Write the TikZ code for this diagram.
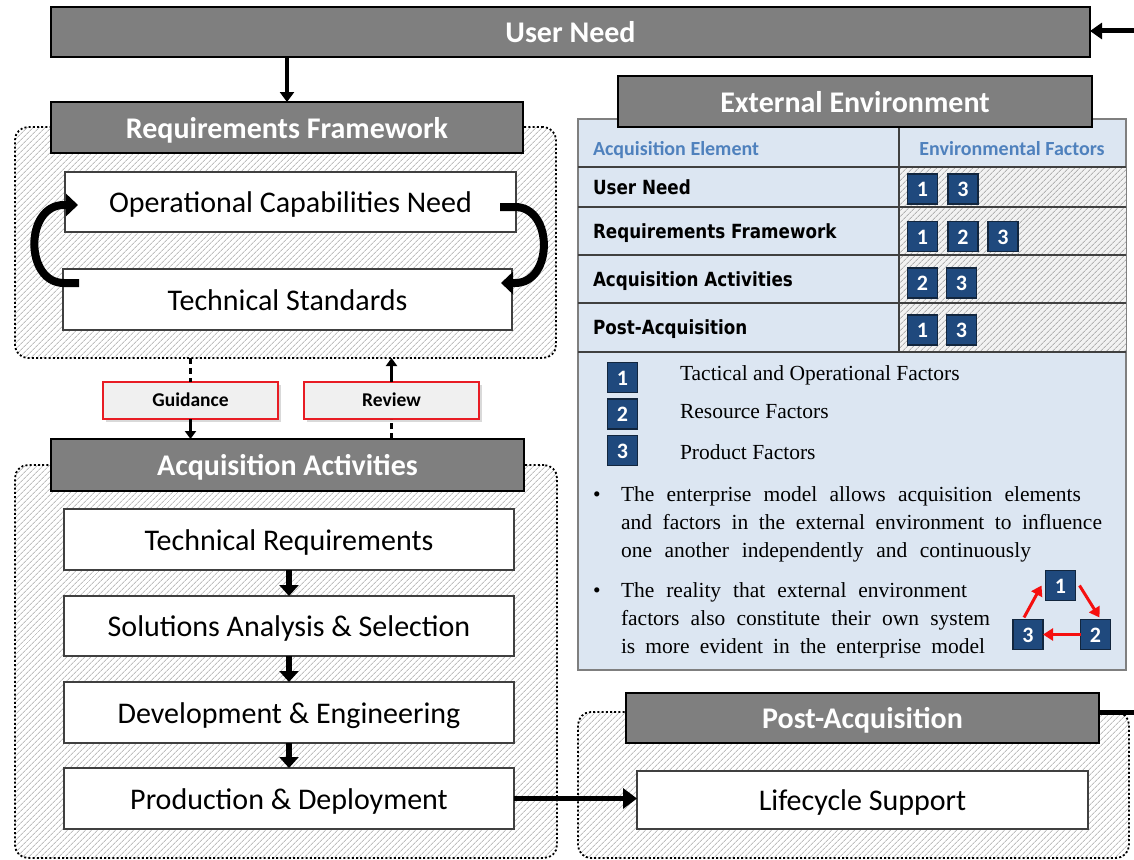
\documentclass[tikz,border=0pt]{standalone}
\usepackage{fontspec}
\setmainfont{Carlito}
\newfontfamily\serifface{Liberation Serif}
\newfontfamily\labelface[FakeStretch=0.86]{DejaVu Sans}
\usetikzlibrary{arrows.meta,patterns.meta,shadows}

\definecolor{barcol}{RGB}{127,127,127}
\definecolor{tablebg}{RGB}{220,230,242}
\definecolor{badgeblue}{RGB}{31,73,125}
\definecolor{badgeedge}{RGB}{18,38,62}
\definecolor{headblue}{RGB}{79,129,189}
\definecolor{boxedge}{RGB}{64,64,64}
\definecolor{tagfill}{RGB}{240,240,240}
\definecolor{tagred}{RGB}{232,28,36}
\definecolor{arrowred}{RGB}{245,15,15}

\newcommand\hdrfont{\bfseries\fontsize{30}{30}\selectfont}
\newcommand\stgfont{\fontsize{30}{30}\selectfont}
\newcommand\tagfont{\bfseries\fontsize{19.5}{20}\selectfont}
\newcommand\bdgfont{\bfseries\fontsize{22}{22}\selectfont}
\newcommand\colfont{\bfseries\fontsize{20}{20}\selectfont}
\newcommand\rowfont{\labelface\bfseries\fontsize{19.5}{20}\selectfont}
\newcommand\txtfont{\serifface\fontsize{21.5}{22}\selectfont}

\tikzset{
  base/.style={inner sep=0pt, outer sep=0pt},
  hatched/.style={pattern={Lines[angle=45,distance=4pt,line width=0.9pt]}, pattern color=gray!50},
  cellhatch/.style={pattern={Lines[angle=45,distance=4pt,line width=1pt]}, pattern color=gray!60},
  container/.style={base, rounded corners=13pt, preaction={fill=white}, hatched,
    draw=black, line width=1.8pt, dash pattern=on 2pt off 2.2pt},
  bar/.style={base, draw=black, line width=2.5pt, fill=barcol, text=white, font=\hdrfont,
    text height=24pt, text depth=3pt},
  stagebox/.style={base, draw=boxedge, line width=1.4pt, fill=white, font=\stgfont,
    text height=23pt, text depth=2pt},
  tag/.style={base, draw=tagred, line width=1.2pt, fill=tagfill, font=\tagfont,
    drop shadow={shadow xshift=3pt, shadow yshift=-3pt, opacity=0.3},
    text height=15.5pt, text depth=3.5pt},
  badge/.style={base, draw=badgeedge, line width=1.2pt, fill=badgeblue, text=white,
    minimum width=30pt, minimum height=30pt, font=\bdgfont,
    text height=15pt, text depth=0pt},
  rowlabel/.style={base, anchor=west, font=\rowfont, text height=16pt, text depth=3pt},
  bodytext/.style={base, anchor=base west, font=\txtfont},
  gridline/.style={draw=boxedge, line width=1.5pt},
  flowarrow/.style={line width=5.5pt, -{Triangle[length=11pt,width=19pt]}},
  needarrow/.style={line width=3.5pt, -{Triangle[length=10pt,width=14pt]}},
  tagarrow/.style={line width=2.5pt, -{Triangle[length=8pt,width=11pt]}},
  tagdash/.style={line width=2.5pt, dash pattern=on 6pt off 4pt},
  looparrow/.style={line width=8pt, -{Triangle[length=12pt,width=22pt]}},
  redarrow/.style={draw=arrowred, line width=3pt, -{Triangle[length=10pt,width=12pt]}},
}

\begin{document}
\begin{tikzpicture}[x=1pt, y=-1pt]
\useasboundingbox (0,0) rectangle (1134,859);

% ---------- top bar ----------
\node[bar, minimum width=1039pt, minimum height=50pt] (userneed) at (570.5,32) {User Need};
\coordinate (needin) at (1134,31);
\draw[flowarrow, line width=5pt, -{Triangle[length=12pt,width=16pt]}] (needin) -- (userneed.east |- needin);

% ---------- requirements framework ----------
\node[container, minimum width=541pt, minimum height=231pt] (reqbox) at (285.5,242.5) {};
\node[bar, minimum width=472pt, minimum height=51pt] (reqhead) at (287,127.5) {Requirements Framework};
\draw[needarrow] (reqhead.north |- userneed.south) -- (reqhead.north);
\node[stagebox, minimum width=451pt, minimum height=60pt] (opcap) at (290.5,202) {Operational Capabilities Need};
\node[stagebox, minimum width=449pt, minimum height=61pt] (techstd) at (287.5,299.5) {Technical Standards};

% feedback loop between the two requirement boxes
\coordinate (loopLa) at (79,283);
\coordinate (loopLb) at (64,283);
\coordinate (loopLc) at (64,205);
\coordinate (loopLd) at (78,205);
\draw[looparrow] (loopLa) -- (loopLb) to[out=180,in=180,looseness=1.3] (loopLc) -- (loopLd);
\coordinate (loopRa) at (500,207);
\coordinate (loopRb) at (515,207);
\coordinate (loopRc) at (515,283);
\coordinate (loopRd) at (501,283);
\draw[looparrow] (loopRa) -- (loopRb) to[out=0,in=0,looseness=1.3] (loopRc) -- (loopRd);

% ---------- guidance / review ----------
\node[tag, minimum width=175pt, minimum height=37pt] (guidance) at (190.5,400.5) {Guidance};
\node[tag, minimum width=175pt, minimum height=37pt] (review) at (391.5,400.5) {Review};

% ---------- acquisition activities ----------
\node[container, minimum width=542pt, minimum height=393pt] (acqbox) at (286,661.5) {};
\node[bar, minimum width=473pt, minimum height=52pt] (acqhead) at (287.5,465) {Acquisition Activities};
\draw[tagdash] (guidance.north |- reqbox.south) -- (guidance.north);
\draw[tagarrow] (guidance.south) -- (guidance.south |- acqhead.north);
\draw[tagdash] (review.south |- acqhead.north) -- (review.south);
\draw[tagarrow] (review.north) -- (review.north |- reqbox.south);

\node[stagebox, minimum width=450pt, minimum height=61pt] (techreq) at (289,539.5) {Technical Requirements};
\node[stagebox, minimum width=450pt, minimum height=60pt] (solutions) at (289,626) {Solutions Analysis \& Selection};
\node[stagebox, minimum width=450pt, minimum height=61pt] (develop) at (289,712.5) {Development \& Engineering};
\node[stagebox, minimum width=450pt, minimum height=61pt] (prod) at (289,798.5) {Production \& Deployment};
\draw[flowarrow] (techreq) -- (solutions);
\draw[flowarrow] (solutions) -- (develop);
\draw[flowarrow] (develop) -- (prod);

% ---------- post-acquisition ----------
\node[container, minimum width=551pt, minimum height=146pt] (postbox) at (853.5,785) {};
\node[bar, minimum width=473pt, minimum height=50pt] (posthead) at (862.5,718) {Post-Acquisition};
\node[stagebox, minimum width=451pt, minimum height=58pt] (lifecycle) at (862.5,800) {Lifecycle Support};
\draw[flowarrow, -{Triangle[length=14pt,width=20pt]}] (prod.east) -- (prod.east -| lifecycle.west);
\coordinate (postout) at (1134,712);
\draw[line width=5pt] (posthead.east |- postout) -- (postout);

% ---------- external environment table ----------
\node[base, draw=barcol, line width=2.5pt, fill=tablebg, minimum width=548pt, minimum height=551pt] (envtable) at (852,394.5) {};
\path[preaction={fill=gray!10}, cellhatch] (899,167) rectangle (1126,352);
\foreach \yy in {167,207,255,303,352}
  \draw[gridline] (578,\yy) -- (1126,\yy);
\draw[gridline] (899,127) -- (899,352);
\node[bar, minimum width=474pt, minimum height=51pt] (envhead) at (855,101.5) {External Environment};

\node[base, anchor=west, text=headblue, font=\colfont, text height=16pt, text depth=3pt] (colelem) at (593,149) {Acquisition Element};
\node[base, text=headblue, font=\colfont, text height=16pt, text depth=3pt] (colfact) at (1012,149) {Environmental Factors};

\node[rowlabel] (rowun) at (593,188) {User Need};
\node[rowlabel] (rowrf) at (593,232) {Requirements Framework};
\node[rowlabel] (rowaa) at (593,280) {Acquisition Activities};
\node[rowlabel] (rowpa) at (593,328) {Post-Acquisition};

\node[badge] (un1) at (922.5,189) {1};
\node[badge] (un3) at (963,189) {3};
\node[badge] (rf1) at (922.5,236.5) {1};
\node[badge] (rf2) at (963,236.5) {2};
\node[badge] (rf3) at (1003,236.5) {3};
\node[badge] (aa2) at (922.5,283) {2};
\node[badge] (aa3) at (961.5,283) {3};
\node[badge] (pa1) at (922.5,330) {1};
\node[badge] (pa3) at (961.5,330) {3};

% legend
\node[badge] (leg1) at (622.5,377.5) {1};
\node[badge] (leg2) at (622.5,414) {2};
\node[badge] (leg3) at (622.5,450.5) {3};
\node[bodytext] (leg1txt) at (680,380) {Tactical and Operational Factors};
\node[bodytext] (leg2txt) at (680,418) {Resource Factors};
\node[bodytext] (leg3txt) at (680,459) {Product Factors};

% notes
\node[bodytext] (dotA) at (593,501) {•};
\node[bodytext] (noteA1) at (621,501) {\makebox[460pt][s]{The enterprise model allows acquisition elements}};
\node[bodytext] (noteA2) at (621,529) {\makebox[481pt][s]{and factors in the external environment to influence}};
\node[bodytext] (noteA3) at (621,557) {\makebox[410pt][s]{one another independently and continuously}};
\node[bodytext] (dotB) at (593,597) {•};
\node[bodytext] (noteB1) at (621,597) {\makebox[346pt][s]{The reality that external environment}};
\node[bodytext] (noteB2) at (621,625) {\makebox[369pt][s]{factors also constitute their own system}};
\node[bodytext] (noteB3) at (621,653) {\makebox[364pt][s]{is more evident in the enterprise model}};

% factor cycle
\node[badge] (cyc1) at (1060.5,585.5) {1};
\node[badge] (cyc3) at (1028,634.5) {3};
\node[badge] (cyc2) at (1095.5,634.5) {2};
\draw[redarrow] ([xshift=-4pt,yshift=2pt]cyc3.north) -- ([xshift=-4pt]cyc1.west);
\draw[redarrow] ([xshift=4pt]cyc1.east) -- ([xshift=4pt,yshift=2pt]cyc2.north);
\draw[redarrow] (cyc2.west) -- (cyc3.east);
\end{tikzpicture}
\end{document}
